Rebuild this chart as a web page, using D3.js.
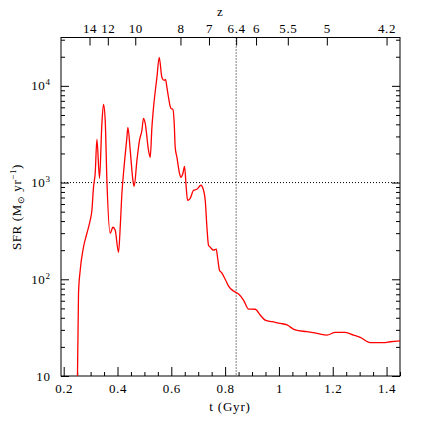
<!DOCTYPE html>
<html><head><meta charset="utf-8">
<script src="https://cdn.jsdelivr.net/npm/d3@7"></script>
<style>
body{margin:0;background:#fff}
text{font-family:"Liberation Serif","Times New Roman",serif;fill:#000}
</style>
</head><body><svg id="c" width="436" height="436"></svg>
<script>
// ---- data ----
const tGyr = [0.251,0.2551,0.2614,0.2736,0.2863,0.2986,0.3049,0.3108,0.3171,0.3235,0.3331,0.342,0.348,0.3543,0.3606,0.3729,0.3829,0.3915,0.4038,0.4101,0.4164,0.4223,0.435,0.4387,0.4473,0.4573,0.4621,0.4722,0.4818,0.4907,0.4967,0.503,0.5153,0.5216,0.5279,0.5339,0.5465,0.5551,0.5651,0.5737,0.5785,0.5837,0.5896,0.5986,0.606,0.6108,0.6145,0.6209,0.6305,0.6357,0.6432,0.6491,0.6554,0.6603,0.6703,0.6826,0.6952,0.7101,0.7198,0.7261,0.7324,0.7383,0.7447,0.7569,0.767,0.7718,0.7792,0.7881,0.8004,0.8127,0.8313,0.8499,0.8684,0.887,0.9119,0.9305,0.9491,0.974,1.0049,1.0298,1.0606,1.1041,1.1413,1.1785,1.2093,1.2465,1.2774,1.3023,1.3394,1.3889,1.4138,1.451];
const sfr = [9,72,124,215,299,408,518,893,1247,2800,1107,4090,6430,4395,1057,299,345,321,190,345,775,1247,2931,3724,2153,1057,916,1698,2729,3466,4613,4094,2153,1824,3724,5985,12220,19640,12220,11370,11650,9640,7590,5846,5713,4094,2311,1824,1247,1133,1247,1472,893,656,688,832,853,938,832,656,345,225,215,200,205,169,124,116,100,85,75.5,70.3,61,49.2,49,42.7,37.8,36.4,35,33.7,29.9,28.7,27.6,26.5,28.2,28.2,26.5,25.1,22.1,22.1,22.6,23.1];
const xTickValues = [0.2,0.4,0.6,0.8,1.0,1.2,1.4];
const xTickLabels = ["0.2","0.4","0.6","0.8","1","1.2","1.4"];
const zTickLabels = ["14","12","10","8","7","6.4","6","5.5","5","4.2"];
const zTickTimes = [0.296,0.364,0.466,0.634,0.740,0.841,0.915,1.033,1.178,1.400];
const yDecades = [10,100,1000,10000];
const yDecadeExps = ["","2","3","4"];
const markerT = 0.841;
const markerSFR = 1000;

// ---- layout ----
const L=61, R=400, T=37.5, B=376;
const svg = d3.select("#c");
const x = d3.scaleLinear().domain([0.19,1.45]).range([L,R]);
const y = d3.scaleLog().domain([10, Math.pow(10,4.5)]).range([B,T]);

const xMinor = d3.range(0.2,1.451,0.05).map(v=>+v.toFixed(2)).filter(v=>!xTickValues.some(m=>Math.abs(m-v)<1e-6));
const yMinor = [];
yDecades.forEach(d=>{for(let k=2;k<=9;k++){const v=d*k; if(v<=y.domain()[1]) yMinor.push(v);}});

function clean(g){g.select(".domain").remove(); g.selectAll("line").attr("stroke","#000");}

// bottom axis
svg.append("g").attr("transform",`translate(0,${B})`)
  .call(d3.axisBottom(x).tickValues(xTickValues).tickFormat((d,i)=>xTickLabels[i]).tickSizeInner(-9).tickSizeOuter(0).tickPadding(8))
  .call(clean)
  .call(g=>g.selectAll("text").attr("font-size",13).style("font-family","Liberation Serif").attr("letter-spacing","0.6"));
svg.append("g").attr("transform",`translate(0,${B})`)
  .call(d3.axisBottom(x).tickValues(xMinor).tickFormat("").tickSizeInner(-4).tickSizeOuter(0))
  .call(clean);

// top axis (redshift)
svg.append("g").attr("transform",`translate(0,${T})`)
  .call(d3.axisTop(x).tickValues(zTickTimes).tickFormat((d,i)=>zTickLabels[i]).tickSizeInner(-8).tickSizeOuter(0).tickPadding(5))
  .call(clean)
  .call(g=>g.selectAll("text").attr("font-size",13).style("font-family","Liberation Serif").attr("letter-spacing","0.6"));

// left / right axes
[["L",L,d3.axisLeft],["R",R,d3.axisRight]].forEach(([k,px,ax])=>{
  svg.append("g").attr("transform",`translate(${px},0)`)
    .call(ax(y).tickValues(yDecades).tickFormat("").tickSizeInner(-8).tickSizeOuter(0)).call(clean);
  svg.append("g").attr("transform",`translate(${px},0)`)
    .call(ax(y).tickValues(yMinor).tickFormat("").tickSizeInner(-4).tickSizeOuter(0)).call(clean);
});

// y tick labels
const yl = svg.append("g");
yDecades.forEach((d,i)=>{
  const t = yl.append("text").attr("x",50.5).attr("y",y(d)+4.5).attr("text-anchor","end").attr("font-size",13).attr("letter-spacing","0.6");
  t.append("tspan").text("10");
  if(yDecadeExps[i]) t.append("tspan").attr("font-size",9).attr("dy",-5).text(yDecadeExps[i]);
});

// frame
svg.append("rect").attr("x",L).attr("y",T).attr("width",R-L).attr("height",B-T).attr("fill","none").attr("stroke","#000").attr("stroke-width",1);

// dotted reference lines
svg.append("line").attr("x1",L).attr("x2",R).attr("y1",y(markerSFR)).attr("y2",y(markerSFR))
  .attr("stroke","#000").attr("stroke-dasharray","1,2").attr("stroke-width",1);
svg.append("line").attr("x1",x(markerT)).attr("x2",x(markerT)).attr("y1",T).attr("y2",B)
  .attr("stroke","#000").attr("stroke-dasharray","1,2").attr("stroke-width",1);

// clip + curve
svg.append("clipPath").attr("id","pc").append("rect").attr("x",L).attr("y",T).attr("width",R-L).attr("height",B-T);
const pts = tGyr.map((t,i)=>[t,sfr[i]]);
svg.append("path").attr("clip-path","url(#pc)").datum(pts)
  .attr("fill","none").attr("stroke","#ff0000").attr("stroke-width",1.3).attr("stroke-linejoin","round")
  .attr("d",d3.line().curve(d3.curveMonotoneX).x(d=>x(d[0])).y(d=>y(d[1])));

// axis titles
svg.append("text").attr("x",220).attr("y",16).attr("text-anchor","middle").attr("font-size",13).text("z");
svg.append("text").attr("x",230).attr("y",411).attr("text-anchor","middle").attr("font-size",13).attr("letter-spacing","0.8").text("t (Gyr)");
const yt = svg.append("text").attr("transform",`translate(21,207) rotate(-90)`).attr("text-anchor","middle").attr("font-size",13).attr("letter-spacing","0.6");
yt.append("tspan").text("SFR (M");
yt.append("tspan").attr("font-size",9).attr("dy",3).text("⊙");
yt.append("tspan").attr("dy",-3).text(" yr");
yt.append("tspan").attr("font-size",9).attr("dy",-5).text("−1");
yt.append("tspan").attr("dy",5).text(")");
</script>
</body></html>
